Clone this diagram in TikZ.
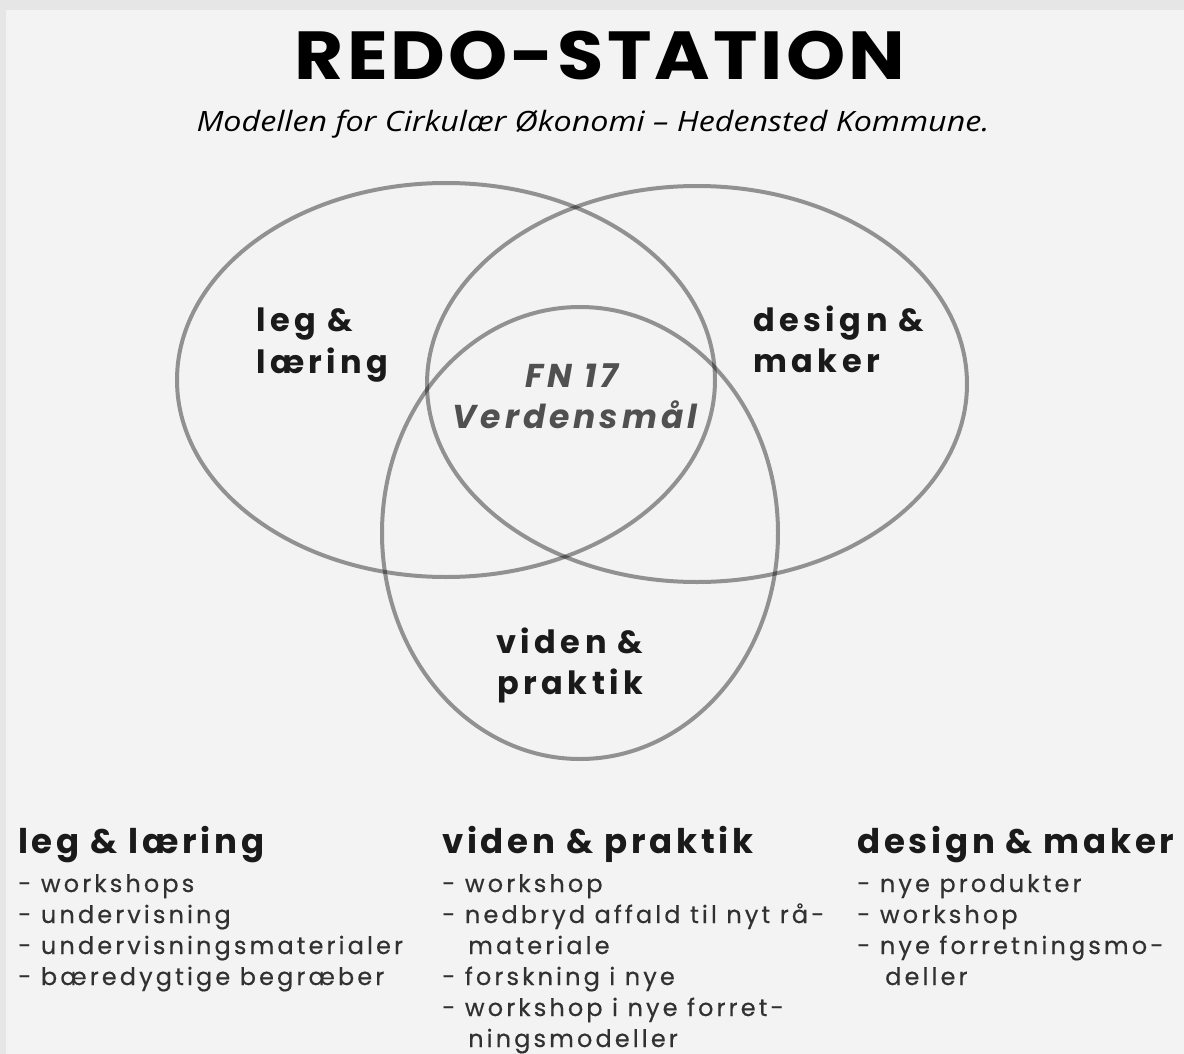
\documentclass[tikz,border=0pt]{standalone}
\usepackage{fontspec}
\usepackage{graphicx}
\newfontfamily\titlefont[LetterSpace=4]{Poppins}
\newfontfamily\subfont{Open Sans}
\newfontfamily\lblfont[LetterSpace=14]{Poppins}
\newfontfamily\fnfont[LetterSpace=12]{Poppins}
\newfontfamily\hdrfont[LetterSpace=11]{Poppins}
\newfontfamily\itemfont[LetterSpace=13,FakeBold=0.4]{Poppins}
\definecolor{bgmain}{HTML}{F3F3F3}
\definecolor{bgedge}{HTML}{E6E6E6}
\definecolor{inkcol}{HTML}{1A1A1A}
\definecolor{fncol}{HTML}{505050}
\tikzset{
  ring/.style={draw=black, draw opacity=0.4, line width=4pt},
  lbl/.style={inner sep=0pt, anchor=base west, text=inkcol, font=\lblfont\bfseries\fontsize{32}{42}\selectfont},
  fnlbl/.style={inner sep=0pt, anchor=base, text=fncol, font=\fnfont\bfseries\itshape\fontsize{33}{40}\selectfont},
  hdr/.style={inner sep=0pt, anchor=base west, text=inkcol, font=\hdrfont\bfseries\fontsize{34}{40}\selectfont},
  item/.style={inner sep=0pt, anchor=base west, text=inkcol!90, font=\itemfont\fontsize{24}{31}\selectfont},
}
\begin{document}
\begin{tikzpicture}[x=1pt,y=-1pt]
\useasboundingbox (0,0) rectangle (1184,1054);
\fill[bgedge] (0,0) rectangle (1184,1054);
\fill[bgmain] (6,10) rectangle (1184,1054);
% title
\node[inner sep=0pt, anchor=base, text=black] (title) at (600,80)
  {\resizebox{610pt}{\height}{\titlefont\bfseries\fontsize{68}{68}\selectfont REDO-STATION}};
\node[inner sep=0pt, anchor=base, text=black] (sub) at (593,132)
  {\resizebox{793pt}{\height}{\subfont\itshape\fontsize{28}{28}\selectfont Modellen for Cirkulær Økonomi – Hedensted Kommune.}};
% rings
\draw[ring] (446,380) ellipse [x radius=269pt, y radius=197pt];
\draw[ring] (697,384) ellipse [x radius=270pt, y radius=198pt];
\draw[ring] (580,533) ellipse [x radius=198pt, y radius=226pt];
% ring labels
\node[lbl] (l1) at (256,331) {leg \&};
\node[lbl] (l2) at (256,373) {læring};
\node[lbl] (d1) at (753,331) {design \&};
\node[lbl] (d2) at (753,372) {maker};
\node[lbl] (v1) at (496,653) {viden \&};
\node[lbl] (v2) at (497,694) {praktik};
\node[fnlbl] (fn1) at (572,387) {FN 17};
\node[fnlbl] (fn2) at (575,428) {Verdensmål};
% column 1
\node[hdr] (h1) at (18,853) {leg \& læring};
\node[item] (a1) at (18,892) {- workshops};
\node[item] (a2) at (18,923) {- undervisning};
\node[item] (a3) at (18,954) {- undervisningsmaterialer};
\node[item] (a4) at (18,985) {- bæredygtige begræber};
% column 2
\node[hdr] (h2) at (442,853) {viden \& praktik};
\node[item] (b1) at (442,892) {- workshop};
\node[item] (b2) at (442,923) {- nedbryd affald til nyt rå-};
\node[item] (b3) at (468,954) {materiale};
\node[item] (b4) at (442,985) {- forskning i nye};
\node[item] (b5) at (442,1016) {- workshop i nye forret-};
\node[item] (b6) at (468,1047) {ningsmodeller};
% column 3
\node[hdr] (h3) at (857,853) {design \& maker};
\node[item] (c1) at (857,892) {- nye produkter};
\node[item] (c2) at (857,923) {- workshop};
\node[item] (c3) at (857,954) {- nye forretningsmo-};
\node[item] (c4) at (885,985) {deller};
\end{tikzpicture}
\end{document}
